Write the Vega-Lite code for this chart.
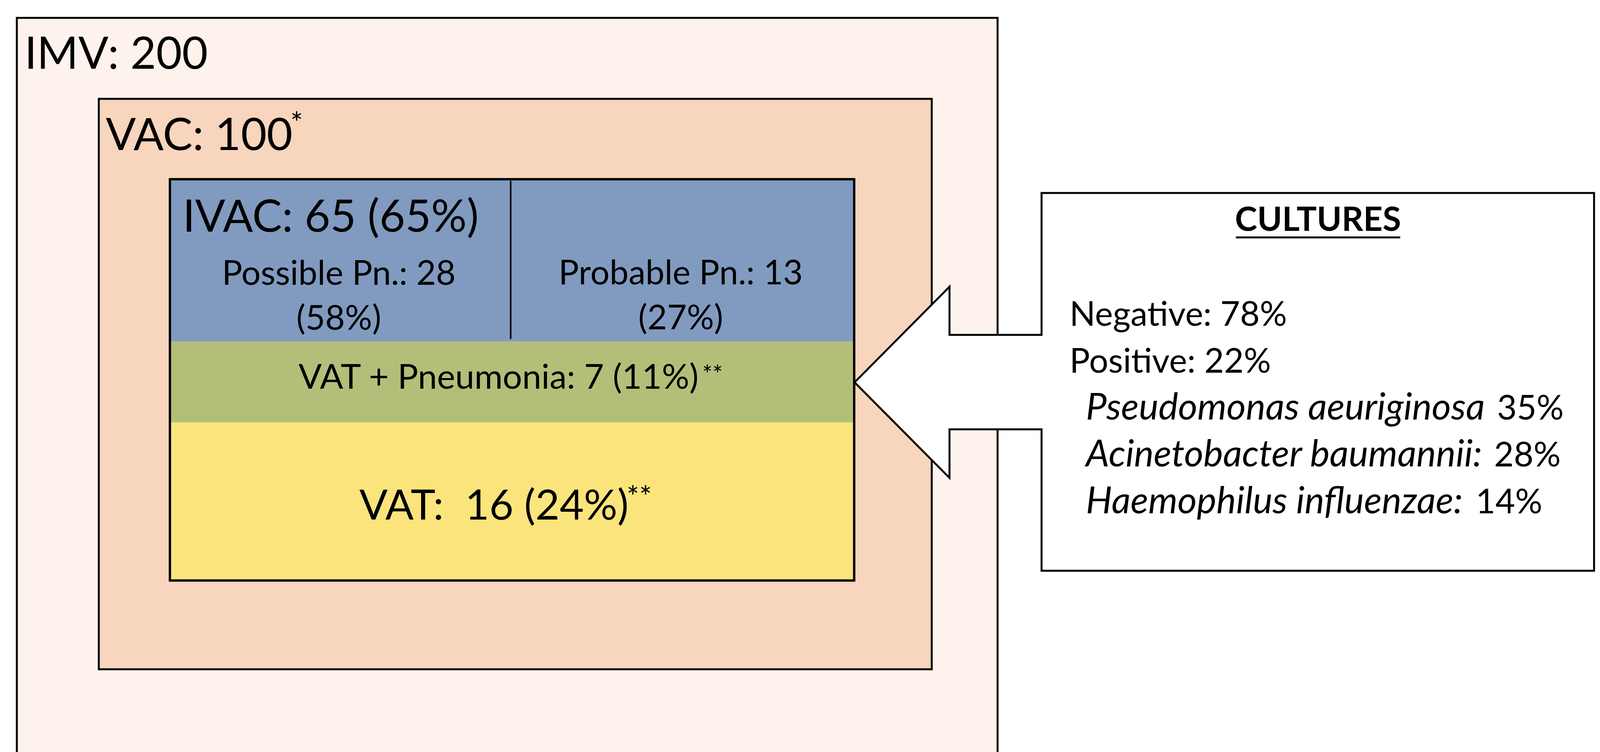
{
  "$schema": "https://vega.github.io/schema/vega-lite/v6.json",
  "width": 4120,
  "height": 1925,
  "autosize": {"type": "none"},
  "padding": 0,
  "background": "white",
  "config": {"view": {"stroke": null}, "text": {"font": "Lato", "color": "black"}},
  "datasets": {
    "boxes": [
      {"name": "IMV", "x": 16.5, "x2": 977.5, "y": 17.5, "y2": 760},
      {"name": "VAC", "x": 96.8, "x2": 913, "y": 96.8, "y2": 655.5}
    ],
    "bands": [
      {"name": "IVAC", "x": 166.5, "x2": 837, "y": 175.5, "y2": 334.5},
      {"name": "VAT + Pneumonia", "x": 166.5, "x2": 837, "y": 334.5, "y2": 413.6},
      {"name": "VAT", "x": 166.5, "x2": 837, "y": 413.6, "y2": 568.5}
    ],
    "ivac": [{"x": 166.5, "x2": 837, "y": 175.5, "y2": 568.5}],
    "divider": [{"x": 500.4, "y": 177, "y2": 332}],
    "callout": [
      {"o": 1, "x": 1020.6, "y": 189},
      {"o": 2, "x": 1562, "y": 189},
      {"o": 3, "x": 1562, "y": 559},
      {"o": 4, "x": 1020.6, "y": 559},
      {"o": 5, "x": 1020.6, "y": 420.5},
      {"o": 6, "x": 930.4, "y": 420.5},
      {"o": 7, "x": 930.4, "y": 468},
      {"o": 8, "x": 837.4, "y": 374.5},
      {"o": 9, "x": 930.4, "y": 280.8},
      {"o": 10, "x": 930.4, "y": 328},
      {"o": 11, "x": 1020.6, "y": 328}
    ],
    "underline": [{"x": 1211, "x2": 1372, "y": 232.5}],
    "bigText": [
      {"t": "IMV: 200", "x": 24, "y": 67.3},
      {"t": "VAC: 100", "x": 103.6, "y": 147},
      {"t": "IVAC: 65 (65%)", "x": 179, "y": 227}
    ],
    "midText": [
      {"t": "Possible Pn.: 28", "x": 332, "y": 279},
      {"t": "(58%)", "x": 332, "y": 322.8},
      {"t": "Probable Pn.: 13", "x": 667, "y": 278.5},
      {"t": "(27%)", "x": 667, "y": 322.5}
    ],
    "vatPnText": [{"t": "VAT + Pneumonia: 7 (11%)", "x": 488.5, "y": 380.5}],
    "vatText": [{"t": "VAT:\u00a0 16 (24%)", "x": 484, "y": 508.8}],
    "supBig": [
      {"t": "*", "x": 284.5, "y": 131},
      {"t": "**", "x": 614, "y": 497}
    ],
    "supSmall": [{"t": "**", "x": 688, "y": 375}],
    "titleText": [{"t": "CULTURES", "x": 1291.5, "y": 226}],
    "cultText": [
      {"t": "Negative: 78%", "x": 1048, "y": 319},
      {"t": "Positive: 22%", "x": 1048, "y": 365}
    ],
    "speciesText": [
      {"t": "Pseudomonas aeuriginosa", "x": 1064, "y": 411},
      {"t": "Acinetobacter baumannii:", "x": 1064, "y": 456.7},
      {"t": "Haemophilus influenzae:", "x": 1064, "y": 502.7}
    ],
    "pctText": [
      {"t": "35%", "x": 1467, "y": 411},
      {"t": "28%", "x": 1464, "y": 456.7},
      {"t": "14%", "x": 1446, "y": 502.7}
    ]
  },
  "encoding": {
    "x": {"field": "x", "type": "quantitative", "scale": {"domain": [0, 1577], "nice": false, "zero": false}, "axis": null},
    "y": {"field": "y", "type": "quantitative", "scale": {"domain": [0, 736.5], "nice": false, "zero": false, "reverse": true}, "axis": null}
  },
  "layer": [
    {
      "data": {"name": "boxes"},
      "mark": {"type": "rect", "stroke": "black", "strokeWidth": 5, "clip": true},
      "encoding": {
        "x2": {"field": "x2"},
        "y2": {"field": "y2"},
        "fill": {"field": "name", "type": "nominal", "legend": null,
          "scale": {"domain": ["IMV", "VAC", "IVAC", "VAT + Pneumonia", "VAT"], "range": ["#FDF3EC", "#F8D5BD", "#819BC0", "#B3BF78", "#FAE47B"]}}
      }
    },
    {
      "data": {"name": "bands"},
      "mark": {"type": "rect"},
      "encoding": {
        "x2": {"field": "x2"},
        "y2": {"field": "y2"},
        "fill": {"field": "name", "type": "nominal", "legend": null,
          "scale": {"domain": ["IMV", "VAC", "IVAC", "VAT + Pneumonia", "VAT"], "range": ["#FDF3EC", "#F8D5BD", "#819BC0", "#B3BF78", "#FAE47B"]}}
      }
    },
    {
      "data": {"name": "ivac"},
      "mark": {"type": "rect", "fill": null, "fillOpacity": 0, "stroke": "black", "strokeWidth": 6},
      "encoding": {"x2": {"field": "x2"}, "y2": {"field": "y2"}}
    },
    {
      "data": {"name": "divider"},
      "mark": {"type": "rule", "color": "black", "strokeWidth": 4},
      "encoding": {"y2": {"field": "y2"}}
    },
    {
      "data": {"name": "callout"},
      "mark": {"type": "line", "interpolate": "linear-closed", "fill": "white", "stroke": "black", "strokeWidth": 5, "strokeJoin": "miter"},
      "encoding": {"order": {"field": "o", "type": "quantitative"}}
    },
    {
      "data": {"name": "underline"},
      "mark": {"type": "rule", "color": "black", "strokeWidth": 5},
      "encoding": {"x2": {"field": "x2"}}
    },
    {
      "data": {"name": "bigText"},
      "mark": {"type": "text", "fontSize": 114, "align": "left", "baseline": "alphabetic"},
      "encoding": {"text": {"field": "t"}}
    },
    {
      "data": {"name": "midText"},
      "mark": {"type": "text", "fontSize": 87, "align": "center", "baseline": "alphabetic"},
      "encoding": {"text": {"field": "t"}}
    },
    {
      "data": {"name": "vatPnText"},
      "mark": {"type": "text", "fontSize": 88, "align": "center", "baseline": "alphabetic"},
      "encoding": {"text": {"field": "t"}}
    },
    {
      "data": {"name": "vatText"},
      "mark": {"type": "text", "fontSize": 107, "align": "center", "baseline": "alphabetic"},
      "encoding": {"text": {"field": "t"}}
    },
    {
      "data": {"name": "supBig"},
      "mark": {"type": "text", "fontSize": 76, "align": "left", "baseline": "alphabetic"},
      "encoding": {"text": {"field": "t"}}
    },
    {
      "data": {"name": "supSmall"},
      "mark": {"type": "text", "fontSize": 62, "align": "left", "baseline": "alphabetic"},
      "encoding": {"text": {"field": "t"}}
    },
    {
      "data": {"name": "titleText"},
      "mark": {"type": "text", "fontSize": 86, "fontWeight": "bold", "align": "center", "baseline": "alphabetic"},
      "encoding": {"text": {"field": "t"}}
    },
    {
      "data": {"name": "cultText"},
      "mark": {"type": "text", "fontSize": 87, "align": "left", "baseline": "alphabetic"},
      "encoding": {"text": {"field": "t"}}
    },
    {
      "data": {"name": "speciesText"},
      "mark": {"type": "text", "fontSize": 95, "fontStyle": "italic", "align": "left", "baseline": "alphabetic"},
      "encoding": {"text": {"field": "t"}}
    },
    {
      "data": {"name": "pctText"},
      "mark": {"type": "text", "fontSize": 87, "align": "left", "baseline": "alphabetic"},
      "encoding": {"text": {"field": "t"}}
    }
  ]
}
